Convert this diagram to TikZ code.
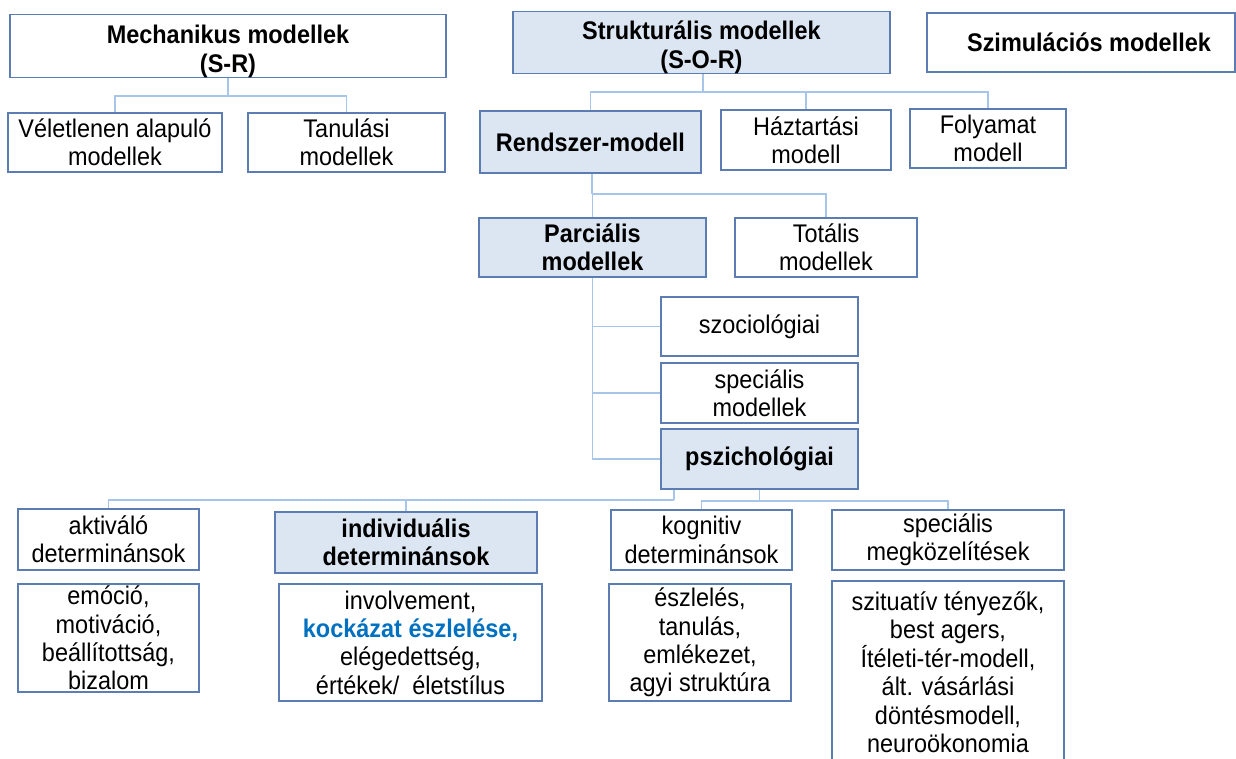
\documentclass[tikz,border=0pt]{standalone}
\usepackage{fontspec}
\setmainfont{Liberation Sans}[FakeStretch=0.92]
\definecolor{boxline}{HTML}{5B7DB1}
\definecolor{boxfill}{HTML}{DCE6F2}
\definecolor{connline}{HTML}{A7C5E8}
\definecolor{riskblue}{HTML}{0070C0}
\begin{document}
\begin{tikzpicture}[x=1pt,y=-1pt,
  txtfont/.style={font=\fontsize{25.5}{28.4}\selectfont},
  box/.style={draw=boxline, line width=1.6pt, fill=white, inner sep=0pt,
              align=center, txtfont},
  hibox/.style={box, fill=boxfill, font=\fontsize{25.5}{28.4}\selectfont\bfseries},
  boldbox/.style={box, font=\fontsize{25.5}{28.4}\selectfont\bfseries},
  conn/.style={draw=connline, line width=1.6pt},
]
\useasboundingbox (0,0) rectangle (1236,758);
\clip (0,0) rectangle (1236,758);

% --- top level ---
\node[boldbox, minimum width=436pt, minimum height=60pt] (mech) at (228,46)
  {\rule{0pt}{29pt}Mechanikus modellek\\(S-R)};
\node[hibox, minimum width=377pt, minimum height=59pt] (strukt) at (701.5,42.5)
  {\rule{0pt}{28pt}Strukturális modellek\\(S-O-R)};
\node[boldbox, minimum width=308pt, minimum height=59pt] (szim) at (1081,42.5)
  {\hspace*{16pt}Szimulációs modellek};

% --- second level ---
\node[box, minimum width=214pt, minimum height=59pt] (velet) at (115,142.5)
  {Véletlenen alapuló\\modellek};
\node[box, minimum width=197pt, minimum height=59pt] (tanul) at (346.5,142.5)
  {Tanulási\\modellek};
\node[hibox, minimum width=221pt, minimum height=62pt] (rendszer) at (590.5,142)
  {Rendszer-modell};
\node[box, minimum width=170pt, minimum height=60pt] (haztart) at (806,140)
  {Háztartási\\modell};
\node[box, minimum width=156pt, minimum height=59pt] (folyamat) at (988,138.5)
  {Folyamat\\modell};

% --- partial / total ---
\node[hibox, minimum width=227pt, minimum height=59pt] (parc) at (592.5,247.5)
  {Parciális\\modellek};
\node[box, minimum width=182pt, minimum height=59pt] (total) at (826,247.5)
  {Totális\\modellek};

% --- partial model branches ---
\node[box, minimum width=197pt, minimum height=59pt] (szoc) at (759.5,326.5)
  {szociológiai};
\node[box, minimum width=197pt, minimum height=60pt] (spec) at (759.5,393)
  {speciális\\modellek};
\node[hibox, minimum width=197pt, minimum height=60pt] (pszich) at (759.5,459)
  {pszichológiai};

% --- determinants ---
\node[box, minimum width=181pt, minimum height=61pt] (akt) at (108.5,539.5)
  {aktiváló\\determinánsok};
\node[hibox, minimum width=262pt, minimum height=61pt] (indiv) at (406,542.5)
  {individuális\\determinánsok};
\node[box, minimum width=181pt, minimum height=60pt] (kogn) at (701.5,540)
  {kognitiv\\determinánsok};
\node[box, minimum width=232pt, minimum height=60pt] (specm) at (948,540)
  {speciális\\megközelítések};

% --- content lists ---
\node[box, minimum width=181pt, minimum height=108pt] (emo) at (108.5,638)
  {emóció,\\motiváció,\\beállítottság,\\bizalom};
\node[box, minimum width=263pt, minimum height=117pt] (invol) at (410.5,642.5)
  {involvement,\\{\color{riskblue}\bfseries kockázat észlelése,}\\elégedettség,\\értékek/ \ életstílus};
\node[box, minimum width=182pt, minimum height=117pt] (eszl) at (700,642.5)
  {észlelés,\\tanulás,\\emlékezet,\\agyi struktúra};
\node[box, minimum width=232pt, inner ysep=11pt, anchor=north] (szit) at (948,580)
  {szituatív tényezők,\\best agers,\\Ítéleti-tér-modell,\\ált. vásárlási\\döntésmodell,\\neuroökonomia};

% --- connectors ---
\coordinate (jm) at (228,96);
\draw[conn] (mech.south) -- (jm);
\draw[conn] (jm) -| (velet.north);
\draw[conn] (jm) -| (tanul.north);

\coordinate (js) at (703,92);
\draw[conn] (strukt.south -| js) -- (js);
\draw[conn] (js) -| (rendszer.north);
\draw[conn] (js) -| (haztart.north);
\draw[conn] (js) -| (folyamat.north);

\coordinate (jr) at (592,194);
\draw[conn] (rendszer.south -| jr) -- (jr);
\draw[conn] (jr) -| (parc.north);
\draw[conn] (jr) -| (total.north);

\draw[conn] (parc.south) |- (szoc.west);
\draw[conn] (parc.south) |- (spec.west);
\draw[conn] (parc.south) |- (pszich.west);

\coordinate (jl) at (674,500);
\draw[conn] (pszich.south -| jl) -- (jl);
\draw[conn] (jl) -| (akt.north);
\draw[conn] (jl) -| (indiv.north);

\coordinate (jk) at (759.5,501);
\draw[conn] (pszich.south) -- (jk);
\draw[conn] (jk) -| (kogn.north);
\draw[conn] (jk) -| (specm.north);
\end{tikzpicture}
\end{document}
